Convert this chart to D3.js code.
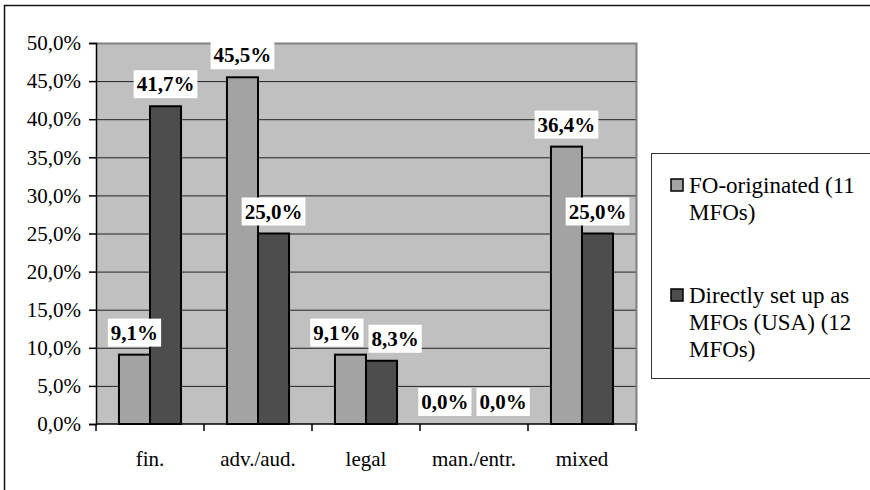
<!DOCTYPE html>
<html>
<head>
<meta charset="utf-8">
<script src="https://cdn.jsdelivr.net/npm/d3@7"></script>
<style>
  html, body { margin: 0; padding: 0; background: #fff; }
  svg { display: block; }
  svg, svg text { font-family: "Times New Roman", "Liberation Serif", "DejaVu Serif", serif !important; }
</style>
</head>
<body>
<svg id="chart" width="870" height="490"></svg>
<script>
// Share of MFOs by background of the founders
const categories = ["fin.", "adv./aud.", "legal", "man./entr.", "mixed"];
const seriesNames = ["FO-originated (11 MFOs)", "Directly set up as MFOs (USA) (12 MFOs)"];
const legendLines = [["FO-originated (11", "MFOs)"], ["Directly set up as", "MFOs (USA) (12", "MFOs)"]];
const foOriginated = [9.1, 45.5, 9.1, 0.0, 36.4];
const directMFO = [41.7, 25.0, 8.3, 0.0, 25.0];
const yTicks = [0, 5, 10, 15, 20, 25, 30, 35, 40, 45, 50];
const seriesValues = [foOriginated, directMFO];
const seriesColors = ["#a3a3a3", "#4d4d4d"];

const FONT = "'Times New Roman', 'Liberation Serif', 'DejaVu Serif', serif";
const fmt = v => v.toFixed(1).replace(".", ",") + "%";

const svg = d3.select("#chart").attr("font-family", FONT);

// outer frame of the chart object (runs off the right and bottom edges)
svg.append("rect")
  .attr("x", 4.5).attr("y", 5.5)
  .attr("width", 900).attr("height", 520)
  .attr("fill", "#fff").attr("stroke", "#111").attr("stroke-width", 1.5);

const plot = { left: 96, right: 636, top: 43, bottom: 424 };

const x = d3.scaleBand().domain(categories).range([plot.left, plot.right]).padding(0);
const xs = d3.scaleBand().domain([0, 1]).range([0, x.bandwidth()])
  .paddingInner(0).paddingOuter(0.74);
const y = d3.scaleLinear().domain([0, 50]).range([plot.bottom, plot.top]);

// plot background
svg.append("rect")
  .attr("x", plot.left).attr("y", plot.top)
  .attr("width", plot.right - plot.left).attr("height", plot.bottom - plot.top)
  .attr("fill", "#c0c0c0");

// horizontal gridlines
svg.append("g").selectAll("line")
  .data(yTicks.filter(t => t > 0 && t < 50))
  .join("line")
  .attr("x1", plot.left).attr("x2", plot.right)
  .attr("y1", d => y(d) + 0.5).attr("y2", d => y(d) + 0.5)
  .attr("stroke", "#222").attr("stroke-width", 1);

// plot border (top / right)
svg.append("path")
  .attr("d", `M${plot.left},${plot.top + 0.5}H${plot.right + 0.5}V${plot.bottom}`)
  .attr("fill", "none").attr("stroke", "#808080").attr("stroke-width", 2);

// bars
const groups = svg.append("g").selectAll("g")
  .data(categories)
  .join("g")
  .attr("transform", d => `translate(${x(d)},0)`);

groups.selectAll("rect")
  .data((c, i) => seriesValues.map((s, k) => ({ k, v: s[i] })))
  .join("rect")
  .attr("x", d => xs(d.k))
  .attr("width", xs.bandwidth())
  .attr("y", d => y(d.v))
  .attr("height", d => y(0) - y(d.v))
  .attr("fill", d => seriesColors[d.k])
  .attr("stroke", "#000").attr("stroke-width", 2);

// y axis
const yAxis = d3.axisLeft(y).tickValues(yTicks).tickSize(7).tickPadding(8)
  .tickFormat(fmt);
const gy = svg.append("g").attr("transform", `translate(${plot.left},0)`).call(yAxis)
  .attr("font-family", FONT).attr("font-size", 21);
gy.select(".domain").attr("stroke", "#000").attr("stroke-width", 1.5);
gy.selectAll(".tick line").attr("stroke", "#000").attr("stroke-width", 1.5);
gy.selectAll(".tick text").attr("fill", "#000");

// x axis with tick marks at category boundaries
const gx = svg.append("g").attr("transform", `translate(0,${plot.bottom})`);
gx.append("line").attr("x1", plot.left).attr("x2", plot.right)
  .attr("stroke", "#000").attr("stroke-width", 1.5);
gx.selectAll("line.tk")
  .data(categories.concat([null]))
  .join("line").attr("class", "tk")
  .attr("x1", (d, i) => plot.left + i * x.step())
  .attr("x2", (d, i) => plot.left + i * x.step())
  .attr("y1", 0).attr("y2", 7)
  .attr("stroke", "#000").attr("stroke-width", 1.5);
gx.selectAll("text")
  .data(categories)
  .join("text")
  .attr("x", d => x(d) + x.bandwidth() / 2)
  .attr("y", 42)
  .attr("text-anchor", "middle")
  .attr("font-size", 21)
  .attr("fill", "#000")
  .text(d => d);

// data labels with white boxes, pushed apart when they collide
const labelLayer = svg.append("g");
categories.forEach((c, i) => {
  const items = seriesValues.map((s, k) => {
    const v = s[i];
    const cx = x(c) + xs(k) + xs.bandwidth() / 2;
    const g = labelLayer.append("g");
    const rect = g.append("rect").attr("fill", "#fff");
    const t = g.append("text")
      .attr("text-anchor", "middle")
      .attr("font-size", 21).attr("font-weight", "bold")
      .attr("fill", "#000")
      .text(fmt(v));
    const w = t.node().getComputedTextLength() + 6;
    const h = 28;
    const bottom = y(v) - 8;
    return { g, rect, t, cx, w, h, bottom };
  });
  const [a, b] = items;
  const vOverlap = Math.abs(a.bottom - b.bottom) < a.h;
  const need = (a.w + b.w) / 2 + 5;
  if (vOverlap && b.cx - a.cx < need) {
    const shift = (need - (b.cx - a.cx)) / 2;
    a.cx -= shift;
    b.cx += shift;
  }
  items.forEach(d => {
    d.rect.attr("x", d.cx - d.w / 2).attr("y", d.bottom - d.h)
      .attr("width", d.w).attr("height", d.h);
    d.t.attr("x", d.cx).attr("y", d.bottom - 7);
  });
});

// legend
const legend = svg.append("g");
legend.append("rect")
  .attr("x", 651.5).attr("y", 153.5)
  .attr("width", 300).attr("height", 225)
  .attr("fill", "#fff").attr("stroke", "#333").attr("stroke-width", 1);
const entryTop = [185, 295];
seriesNames.forEach((name, k) => {
  const g = legend.append("g").attr("class", "entry").attr("data-name", name);
  g.append("rect")
    .attr("x", 671).attr("y", entryTop[k] - 6)
    .attr("width", 12).attr("height", 12)
    .attr("fill", seriesColors[k]).attr("stroke", "#000").attr("stroke-width", 1.5);
  g.selectAll("text")
    .data(legendLines[k])
    .join("text")
    .attr("x", 689)
    .attr("y", (d, j) => entryTop[k] + 8 + j * 27)
    .attr("font-size", 23)
    .attr("fill", "#000")
    .text(d => d);
});
</script>
</body>
</html>
